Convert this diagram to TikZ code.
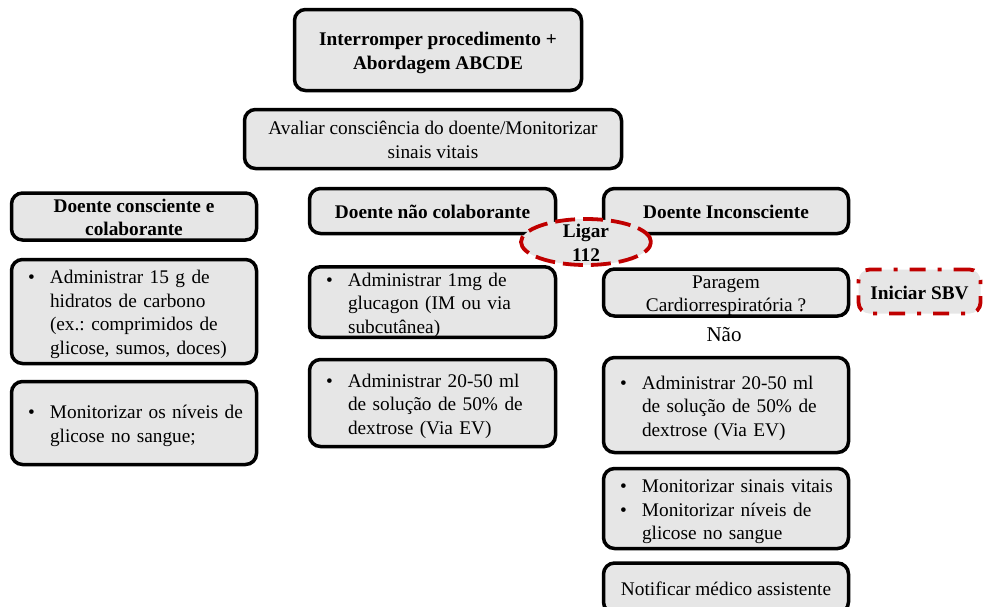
\documentclass[tikz,border=0pt]{standalone}
\usepackage{fontspec}
\setmainfont{Liberation Serif}
\usetikzlibrary{shapes.geometric,shadows}

\definecolor{panelfill}{HTML}{E6E6E6}
\definecolor{alertred}{HTML}{C00000}

\frenchspacing
% body text: 19.3 units on a 23.5 unit line pitch (1 unit = 1 px of the layout grid)
\newcommand\bodyfont{\fontsize{19.3}{23.5}\selectfont}
% text sits slightly below the middle of its panel
\newcommand\sunk[1]{\raisebox{-3pt}[\height][\depth]{#1}}
% centred lines
\newcommand\lines[1]{\sunk{\begin{tabular}{@{}c@{}}#1\end{tabular}}}
% bulleted block: bullet column followed by the item text
\newcommand\bulletlist[1]{\sunk{\begin{tabular}{@{}p{22pt}@{}l@{}}#1\end{tabular}}}

\tikzset{
  panel/.style={draw=black, line width=3.5pt, rounded corners=11pt, fill=panelfill,
    inner sep=0pt, font=\bodyfont, align=center,
    drop shadow={shadow xshift=1.2pt, shadow yshift=-1.2pt, opacity=0.3}},
  headpanel/.style={panel, font=\bodyfont\bfseries},
  listpanel/.style={panel, align=left},
  alertline/.style={draw=alertred, line width=3.8pt, fill=panelfill}
}

\begin{document}
\begin{tikzpicture}[x=1pt, y=-1pt]
  \clip (0,0) rectangle (984,606);

  % top of the protocol
  \node[headpanel, minimum width=287pt, minimum height=81pt] (stop) at (438,50)
    {\lines{Interromper procedimento +\\Abordagem ABCDE}};
  \node[panel, minimum width=377pt, minimum height=59pt] (assess) at (433,139)
    {\lines{Avaliar consciência do doente/Monitorizar\\sinais vitais}};

  % column 1: conscious and cooperative patient
  \node[headpanel, minimum width=245pt, minimum height=46pt] (consc) at (134,216.5)
    {\lines{Doente consciente e\\colaborante}};
  \node[listpanel, minimum width=245pt, minimum height=104pt, text width=212pt] (carbs) at (134,311.5)
    {\bulletlist{\textbullet & Administrar 15 g de\\ & hidratos de carbono\\ & (ex.: comprimidos de\\ & glicose, sumos, doces)}};
  \node[listpanel, minimum width=245pt, minimum height=83pt, text width=212pt] (glyc1) at (134,423)
    {\bulletlist{\textbullet & Monitorizar os níveis de\\ & glicose no sangue;}};

  % column 2: uncooperative patient
  \node[headpanel, minimum width=246pt, minimum height=45pt] (uncoop) at (432.5,211)
    {\lines{Doente não colaborante}};
  \node[listpanel, minimum width=246pt, minimum height=67pt, text width=213pt] (glucagon) at (432.5,302)
    {\bulletlist{\textbullet & Administrar 1mg de\\ & glucagon (IM ou via\\ & subcutânea)}};
  \node[listpanel, minimum width=246pt, minimum height=87pt, text width=213pt] (dext2) at (432.5,403)
    {\bulletlist{\textbullet & Administrar 20-50 ml\\ & de solução de 50\% de\\ & dextrose (Via EV)}};

  % column 3: unconscious patient
  \node[headpanel, minimum width=245pt, minimum height=45pt] (uncon) at (726,211)
    {\lines{Doente Inconsciente}};
  \node[panel, minimum width=245pt, minimum height=46pt] (arrest) at (726,292.5)
    {\lines{Paragem\\Cardiorrespiratória ?}};
  \node[font=\fontsize{21}{24}\selectfont, inner sep=0pt] (no) at (724,335) {Não};
  \node[listpanel, minimum width=245pt, minimum height=95pt, text width=212pt] (dext3) at (726,405)
    {\bulletlist{\textbullet & Administrar 20-50 ml\\ & de solução de 50\% de\\ & dextrose (Via EV)}};
  \node[listpanel, minimum width=245pt, minimum height=80pt, text width=212pt] (vitals) at (726,508.5)
    {\bulletlist{\textbullet & Monitorizar sinais vitais\\ \textbullet & Monitorizar níveis de\\ & glicose no sangue}};
  \node[panel, minimum width=245pt, minimum height=50pt] (notify) at (726,588)
    {\lines{Notificar médico assistente}};

  % alerts in red
  \node[alertline, rounded corners=11pt, dash pattern=on 16pt off 12pt on 4pt off 12pt,
    minimum width=122pt, minimum height=44pt, inner sep=0pt,
    font=\bodyfont\bfseries] (bls) at (919.5,291.5) {\lines{Iniciar SBV}};
  \node[alertline, ellipse, dash pattern=on 20pt off 8pt,
    minimum width=130pt, minimum height=46pt, inner sep=0pt,
    label={[font=\bodyfont\bfseries, inner sep=0pt]center:\lines{Ligar\\112}}]
    (call) at (586,242) {};
\end{tikzpicture}
\end{document}
